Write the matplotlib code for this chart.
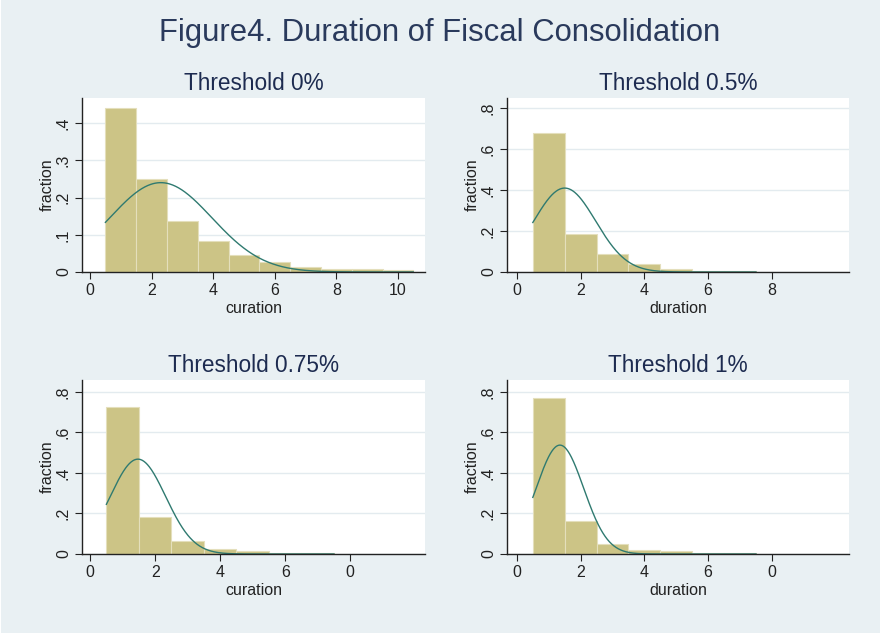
import numpy as np
import matplotlib
matplotlib.use("Agg")
import matplotlib.pyplot as plt
from matplotlib import font_manager
from matplotlib.patches import Rectangle

# ---- data ----
titles = ["Threshold 0%", "Threshold 0.5%", "Threshold 0.75%", "Threshold 1%"]
xlabels = ["curation", "duration", "curation", "duration"]

bin_left = 0.5
bin_width = 1.0
frac_0 = [0.442, 0.249, 0.138, 0.083, 0.045, 0.028, 0.014, 0.009, 0.009, 0.006]
frac_05 = [0.678, 0.188, 0.087, 0.038, 0.017, 0.005, 0.005]
frac_075 = [0.726, 0.184, 0.064, 0.025, 0.013, 0.007, 0.007]
frac_1 = [0.770, 0.163, 0.051, 0.020, 0.013, 0.006, 0.006]
fractions = [frac_0, frac_05, frac_075, frac_1]

# fitted normal overlay parameters (mean, sd)
norm_mean = [2.30, 1.50, 1.47, 1.35]
norm_sd = [1.66, 0.973, 0.853, 0.743]

xtick_vals = [[0, 2, 4, 6, 8, 10], [0, 2, 4, 6, 8], [0, 2, 4, 6, 8], [0, 2, 4, 6, 8]]
xtick_text = [["0", "2", "4", "6", "8", "10"], ["0", "2", "4", "6", "8"],
              ["0", "2", "4", "6", "0"], ["0", "2", "4", "6", "0"]]
ytick_vals = [[0, 0.1, 0.2, 0.3, 0.4], [0, 0.2, 0.4, 0.6, 0.8],
              [0, 0.2, 0.4, 0.6, 0.8], [0, 0.2, 0.4, 0.6, 0.8]]
ytick_text = [["0", ".1", ".2", ".3", ".4"], ["0", ".2", ".4", ".6", ".8"],
              ["0", ".2", ".4", ".6", ".8"], ["0", ".2", ".4", ".6", ".8"]]
xlims = [(-0.26, 10.88), (-0.31, 10.42), (-0.25, 10.3), (-0.31, 10.42)]
ylims = [(0, 0.468), (0, 0.85), (0, 0.858), (0, 0.858)]

# ---- styling ----
plt.rcParams['font.family'] = ['Liberation Sans', 'DejaVu Sans']
installed = {f.name for f in font_manager.fontManager.ttflist}
tick_family = ['Liberation Sans Narrow', 'Liberation Sans', 'DejaVu Sans'] \
    if 'Liberation Sans Narrow' in installed else ['Liberation Sans', 'DejaVu Sans']
tick_size = 13 if 'Liberation Sans Narrow' in installed else 11.5

bg = '#e9f0f3'
bar_color = '#ccc486'
bar_edge = '#e4dfbc'
curve_color = '#2f7a70'
title_color = '#1d2b50'
grid_color = '#e3ebef'
ink = '#222222'

W, H = 880, 635
fig = plt.figure(figsize=(W / 100, H / 100), dpi=100, facecolor=bg)
# thin white edges seen in the reference
fig.patches.append(Rectangle((0, 0), 1, 2 / H, transform=fig.transFigure,
                             facecolor='white', edgecolor='none'))
fig.patches.append(Rectangle((0, 0), 1 / W, 1, transform=fig.transFigure,
                             facecolor='white', edgecolor='none'))

# axes rectangles in pixels: left, top, right, bottom
rects = [(82, 98, 425, 272), (507, 98, 849, 272), (82, 380, 425, 554), (507, 380, 849, 554)]

fig.text(440 / W, 1 - 33 / H, "Figure4. Duration of Fiscal Consolidation",
         ha='center', va='center', fontsize=22.3, color='#2a3a5c')

for i in range(4):
    l, t, r, b = rects[i]
    ax = fig.add_axes([l / W, 1 - b / H, (r - l) / W, (b - t) / H])
    ax.set_facecolor('white')
    vals = fractions[i]
    lefts = bin_left + bin_width * np.arange(len(vals))
    ax.bar(lefts, vals, width=bin_width, align='edge', color=bar_color,
           edgecolor=bar_edge, linewidth=0.8, zorder=2)
    xs = np.linspace(bin_left, bin_left + bin_width * len(vals), 400)
    m, s = norm_mean[i], norm_sd[i]
    ys = bin_width * np.exp(-0.5 * ((xs - m) / s) ** 2) / (s * np.sqrt(2 * np.pi))
    ax.plot(xs, ys, color=curve_color, lw=1.0, zorder=3)

    ax.set_xlim(*xlims[i])
    ax.set_ylim(*ylims[i])
    ax.set_xticks(xtick_vals[i])
    ax.set_xticklabels(xtick_text[i], family=tick_family, fontsize=tick_size)
    ax.set_yticks(ytick_vals[i])
    ax.set_yticklabels(ytick_text[i], rotation=90, va='center',
                       family=tick_family, fontsize=tick_size)
    ax.grid(axis='y', color=grid_color, lw=1.0, zorder=0)
    ax.set_axisbelow(True)
    for sp in ['top', 'right']:
        ax.spines[sp].set_visible(False)
    for sp in ['left', 'bottom']:
        ax.spines[sp].set_color(ink)
        ax.spines[sp].set_linewidth(1.0)
        ax.spines[sp].set_zorder(4)
    ax.tick_params(axis='both', direction='out', length=5, width=0.8,
                   color=ink, labelcolor=ink, pad=3)
    ax.set_xlabel(xlabels[i], fontsize=11.5, color=ink, labelpad=2)
    ax.set_ylabel("fraction", fontsize=11.5, color=ink, labelpad=1)
    ax.set_title(titles[i], fontsize=16.3, color=title_color, pad=6)

fig.savefig("out.png", dpi=100, facecolor=bg)
